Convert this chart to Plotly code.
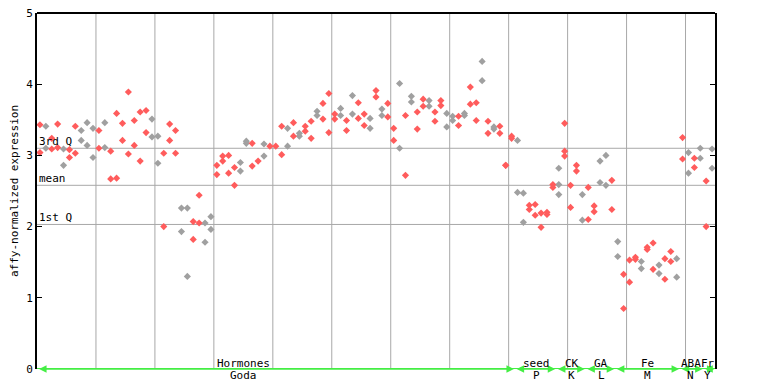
import plotly.graph_objects as go

# ---------------- data ----------------
rep1 = [3.43, 3.41, 3.24, 3.44, 3.09, 3.08, 3.41, 3.35, 3.46, 3.38,
        3.35, 3.46, 3.06, 3.59, 3.45, 3.89, 3.49, 3.61, 3.63, 3.51,
        3.27, 3.03, 3.44, 3.35, 2.26, 2.26, 2.07, 2.44, 2.05, 2.14,
        2.86, 2.99, 3.00, 2.83, 2.90, 3.20, 3.17, 2.92, 3.16, 3.13,
        3.13, 3.41, 3.38, 3.46, 3.31, 3.41, 3.48, 3.62, 3.73, 3.87,
        3.58, 3.66, 3.49, 3.84, 3.74, 3.58, 3.52, 3.91, 3.65, 3.73,
        3.38, 4.01, 3.56, 3.83, 3.61, 3.79, 3.77, 3.61, 3.77, 3.59,
        3.55, 3.55, 3.59, 3.96, 3.74, 4.32, 3.48, 3.40, 3.41, 2.86,
        3.27, 3.21, 2.47, 2.30, 2.31, 2.19, 2.20, 2.59, 2.82, 3.45,
        2.58, 2.86, 2.45, 2.55, 2.29, 2.92, 3.00, 2.65, 1.79, 1.33,
        1.53, 1.57, 1.51, 1.71, 1.77, 1.46, 1.55, 1.65, 1.55, 3.25,
        3.04, 2.96, 3.10, 2.64, 3.09]
rep2 = [3.04, 3.10, 3.09, 3.11, 2.86, 2.97, 3.03, 3.21, 3.14, 2.97,
        3.10, 3.11, 2.67, 2.68, 3.21, 3.02, 3.14, 2.92, 3.32, 3.26,
        2.89, 2.00, 3.21, 3.03, 1.93, 1.30, 1.82, 2.05, 1.78, 1.96,
        2.73, 2.92, 2.75, 2.58, 2.78, 3.17, 2.85, None, 2.99, None,
        None, 3.01, 3.13, 3.27, 3.27, 3.34, 3.24, 3.56, 3.51, 3.32,
        3.51, 3.56, 3.35, 3.58, 3.52, 3.42, 3.38, 3.82, 3.56, 3.54,
        3.21, 3.10, 2.72, 3.75, 3.37, 3.69, 3.69, 3.48, 3.70, 3.40,
        3.49, 3.42, 3.56, 3.72, 3.49, 4.05, 3.31, 3.37, 3.31, 2.86,
        3.24, 2.48, 2.06, 2.24, 2.16, 1.99, 2.17, 2.55, 2.59, 3.06,
        2.27, 2.78, 2.09, 2.10, 2.21, 2.62, 2.58, 2.24, 1.58, 0.85,
        1.22, 1.54, 1.41, 1.68, 1.40, 1.34, 1.26, 1.51, 1.29, 2.95,
        2.75, 2.83, 2.96, 2.00, 2.82]
extra_idx = [88, 89]
extra_vals = [2.45, 2.99]

grey_samples = [1, 4, 7, 8, 9, 11, 19, 20, 24, 25, 28, 29, 34, 35, 38, 42,
                44, 47, 51, 53, 56, 58, 61, 63, 66, 69, 70, 72, 75, 77, 81,
                82, 88, 92, 95, 96, 98, 102, 105, 108, 110, 112, 114]

q3_val, mean_val, q1_val = 3.10, 2.58, 2.03

groups_top = ["Hormones", "seed", "CK", "GA", "Fe", "ABA", "Fr"]
groups_bottom = ["Goda", "P", "K", "L", "M", "N", "Y"]
group_start = [0, 81, 88, 93, 98, 109, 113]
group_end = [80, 87, 92, 97, 108, 112, 114]
label_pos = [34.5, 84.3, 90.2, 95.2, 103.1, 110.4, 113.3]

# ---------------- build ----------------
gx, gy, rx, ry = [], [], [], []
for reps in (rep1, rep2):
    for i, v in enumerate(reps):
        if v is None:
            continue
        if i in grey_samples:
            gx.append(i); gy.append(v)
        else:
            rx.append(i); ry.append(v)
for i, v in zip(extra_idx, extra_vals):
    if i in grey_samples:
        gx.append(i); gy.append(v)
    else:
        rx.append(i); ry.append(v)

FONT = dict(family="DejaVu Sans Mono", size=11, color="black")
GRID = "#a8a8a8"
GREEN = "#44ee44"

fig = go.Figure()
fig.add_trace(go.Scatter(x=gx, y=gy, mode="markers",
                         marker=dict(symbol="diamond", size=5.5, color="#a0a0a0"),
                         showlegend=False, cliponaxis=False))
fig.add_trace(go.Scatter(x=rx, y=ry, mode="markers",
                         marker=dict(symbol="diamond", size=5.5, color="#ff5c5c"),
                         showlegend=False, cliponaxis=False))

shapes = []
for g in range(1, 12):
    xv = g * 10 - 0.5
    shapes.append(dict(type="line", xref="x", yref="y", x0=xv, x1=xv, y0=0, y1=5,
                       line=dict(color=GRID, width=1), layer="below"))
for yv in (q3_val, mean_val, q1_val):
    shapes.append(dict(type="line", xref="paper", yref="y", x0=0, x1=1, y0=yv, y1=yv,
                       line=dict(color=GRID, width=1), layer="below"))
shapes.append(dict(type="line", xref="paper", yref="paper", x0=0, x1=1, y0=1, y1=1,
                   line=dict(color="black", width=2)))
shapes.append(dict(type="line", xref="paper", yref="y", x0=0, x1=1, y0=0, y1=0,
                   line=dict(color=GREEN, width=2)))

annotations = []
for lbl, yv in (("3rd Q", q3_val), ("mean", mean_val), ("1st Q", q1_val)):
    annotations.append(dict(text=lbl, xref="paper", yref="y", x=0, y=yv,
                            xanchor="left", yanchor="bottom", showarrow=False,
                            font=FONT, yshift=-2))
for s, e in zip(group_start, group_end):
    annotations.append(dict(text="", xref="x", yref="y", x=e + 0.4, y=0,
                            axref="x", ayref="y", ax=s - 0.4, ay=0,
                            showarrow=True, arrowhead=2, arrowside="end+start",
                            arrowsize=1, arrowwidth=1.5, arrowcolor=GREEN,
                            standoff=0, startstandoff=0))
for t, b, p in zip(groups_top, groups_bottom, label_pos):
    annotations.append(dict(text=t, xref="x", yref="y", x=p, y=0, yanchor="bottom",
                            xanchor="center", showarrow=False, font=FONT, yshift=-3))
    annotations.append(dict(text=b, xref="x", yref="y", x=p, y=0, yanchor="top",
                            xanchor="center", showarrow=False, font=FONT, yshift=2))

# page body has an 8px default margin; compensate so the plot lands where the reference has it
fig.update_layout(
    width=760, height=376,
    margin=dict(l=29, r=53, t=5, b=15, autoexpand=False),
    plot_bgcolor="white", paper_bgcolor="white",
    font=FONT,
    shapes=shapes, annotations=annotations,
    xaxis=dict(range=[-0.5, 114.5], showgrid=False, zeroline=False, automargin=False,
               showticklabels=False, ticks="", showline=False, fixedrange=True),
    yaxis=dict(range=[0, 5], tickvals=[0, 1, 2, 3, 4, 5], showgrid=False,
               zeroline=False, ticks="inside", ticklen=5, tickcolor="black",
               showline=True, linecolor="black", linewidth=2, mirror="ticks",
               tickfont=FONT, automargin=False, ticklabeloverflow="allow",
               title=dict(text="affy-normalized expression", font=FONT, standoff=8)),
)

fig.write_html("out.html")
